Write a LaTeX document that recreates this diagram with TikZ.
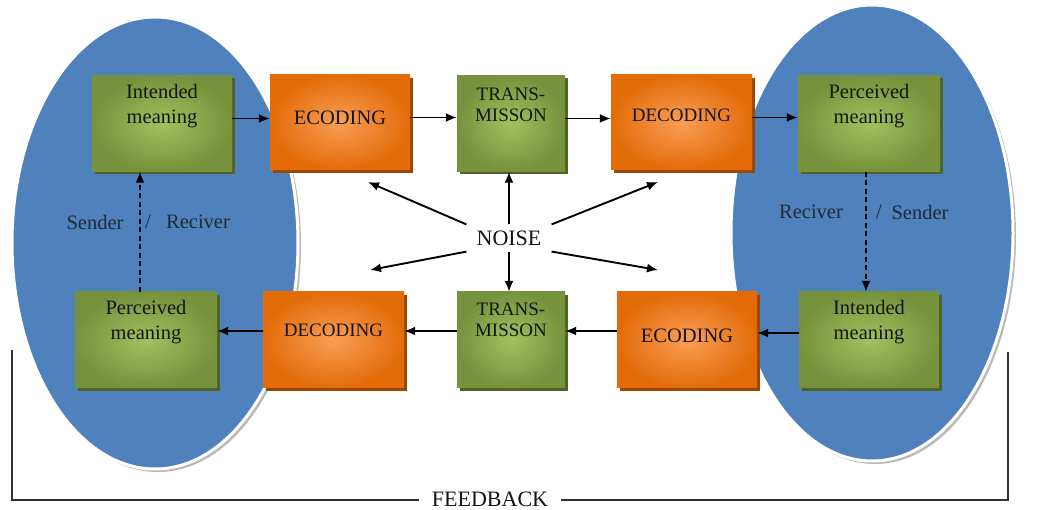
\documentclass[tikz,border=0pt]{standalone}
\usepackage{fontspec}
\setmainfont{Liberation Serif}
\usetikzlibrary{arrows.meta,shadows}

\definecolor{ovalblue}{HTML}{4F81BD}
\definecolor{grnout}{HTML}{76923C}
\definecolor{grnin}{HTML}{A2C15E}
\definecolor{grnsh}{HTML}{4F6228}
\definecolor{orgout}{HTML}{E36C09}
\definecolor{orgin}{HTML}{F99E56}
\definecolor{orgsh}{HTML}{9A4806}
\definecolor{inktext}{HTML}{141414}

\begin{document}
\begin{tikzpicture}[x=1pt,y=-1pt,
  boxbase/.style={rectangle, inner sep=0pt, minimum height=96pt},
  gbox/.style={boxbase, inner color=grnin, outer color=grnout,
    drop shadow={shadow xshift=3pt, shadow yshift=-3pt, opacity=1, fill=grnsh}},
  obox/.style={boxbase, inner color=orgin, outer color=orgout,
    drop shadow={shadow xshift=3pt, shadow yshift=-3pt, opacity=1, fill=orgsh}},
  lbl/.style={align=center, text=inktext, inner sep=0pt,
    font=\fontsize{20.5}{25}\selectfont},
  lblsm/.style={align=center, text=inktext, inner sep=0pt,
    font=\fontsize{19}{21}\selectfont},
  side/.style={text=inktext!80!ovalblue, inner sep=0pt,
    font=\fontsize{20.5}{24}\selectfont},
  arr/.style={-{Latex[length=11pt,width=9pt]}, line width=1.9pt, draw=black},
  dasharr/.style={arr, dash pattern=on 5pt off 3.5pt}
]
\useasboundingbox (0,0) rectangle (1042,510);
\fill[white] (0,0) rectangle (1042,510);

% the two sender/receiver ovals
\fill[gray!55] (158,246) ellipse [x radius=143, y radius=226];
\filldraw[fill=ovalblue, draw=white, line width=3pt] (155,243) ellipse [x radius=143, y radius=226];
\fill[gray!55] (875,236) ellipse [x radius=141, y radius=228];
\filldraw[fill=ovalblue, draw=white, line width=3pt] (872,233) ellipse [x radius=141, y radius=228];

% upper chain
\node[gbox, minimum width=140pt] (im1) at (162,123.5) {};
\node[obox, minimum width=140pt, minimum height=95pt] (ec1) at (340,122.5) {};
\node[gbox, minimum width=108pt] (tr1) at (511,123.5) {};
\node[obox, minimum width=141pt, minimum height=95pt] (de1) at (681.5,122.5) {};
\node[gbox, minimum width=142pt] (pm1) at (869,123.5) {};

% lower chain
\node[gbox, minimum width=142pt] (pm2) at (146,340) {};
\node[obox, minimum width=141pt] (de2) at (333.5,340) {};
\node[gbox, minimum width=108pt] (tr2) at (511,340) {};
\node[obox, minimum width=140pt] (ec2) at (687,340) {};
\node[gbox, minimum width=140pt] (im2) at (869,340) {};

% box captions
\node[lbl] (im1t) at (162,106.5) {Intended\\meaning};
\node[lbl] (ec1t) at (340,118) {ECODING};
\node[lblsm] (tr1t) at (511,105) {TRANS-\\MISSON};
\node[lblsm] (de1t) at (681.5,115.5) {DECODING};
\node[lbl] (pm1t) at (869,106.5) {Perceived\\meaning};

\node[lbl] (pm2t) at (146,322) {Perceived\\meaning};
\node[lblsm] (de2t) at (333.5,330.5) {DECODING};
\node[lblsm] (tr2t) at (511,320) {TRANS-\\MISSON};
\node[lbl] (ec2t) at (687,335.5) {ECODING};
\node[lbl] (im2t) at (869,322) {Intended\\meaning};

% forward flow
\draw[arr] ([yshift=5pt]im1.east) -- ([yshift=5pt]im1.east -| ec1.west);
\draw[arr] ([yshift=5pt]ec1.east) -- ([yshift=5pt]ec1.east -| tr1.west);
\draw[arr] ([yshift=5pt]tr1.east) -- ([yshift=5pt]tr1.east -| de1.west);
\draw[arr] ([yshift=5pt]de1.east) -- ([yshift=5pt]de1.east -| pm1.west);

% return flow
\draw[arr] ([yshift=7pt]im2.west) -- ([yshift=7pt]im2.west -| ec2.east);
\draw[arr] ([yshift=9pt]ec2.west) -- ([yshift=9pt]ec2.west -| tr2.east);
\draw[arr] ([yshift=9pt]tr2.west) -- ([yshift=9pt]tr2.west -| de2.east);
\draw[arr] ([yshift=9pt]de2.west) -- ([yshift=9pt]de2.west -| pm2.east);

% role switch inside the ovals
\draw[dasharr] ([xshift=-6pt]pm2.north) -- ([xshift=-6pt]pm2.north |- im1.south);
\draw[dasharr] ([xshift=-3pt]pm1.south) -- ([xshift=-3pt]pm1.south |- im2.north);

\node[side] (snd1) at (95,222) {Sender};
\node[side] (sl1) at (148,222) {/};
\node[side] (rcv1) at (198,222) {Reciver};
\node[side] (rcv2) at (811,212) {Reciver};
\node[side] (sl2) at (879,212) {/};
\node[side] (snd2) at (920,212) {Sender};

% noise source
\node[text=inktext, inner xsep=10pt, inner ysep=6pt,
      font=\fontsize{22}{26}\selectfont] (noise) at (509,238) {NOISE};
\coordinate (nul) at (368,182);
\coordinate (nur) at (658,182);
\coordinate (ndl) at (370,270);
\coordinate (ndr) at (658,270);
\draw[arr] (noise.north) -- (noise.north |- tr1.south);
\draw[arr] (noise.south) -- (noise.south |- tr2.north);
\draw[arr] (noise.north west) -- (nul);
\draw[arr] (noise.north east) -- (nur);
\draw[arr] (noise.south west) -- (ndl);
\draw[arr] (noise.south east) -- (ndr);

% feedback loop
\node[text=inktext, inner xsep=13pt, inner ysep=0pt,
      font=\fontsize{22}{26}\selectfont] (fb) at (490,499) {FEEDBACK};
\coordinate (fbl) at (12,350);
\coordinate (fbr) at (1008,352);
\draw[line width=1.4pt, draw=black!80] (fbl) |- ([yshift=-1pt]fb.west);
\draw[line width=1.4pt, draw=black!80] (fbr) |- ([yshift=-1pt]fb.east);
\end{tikzpicture}
\end{document}
